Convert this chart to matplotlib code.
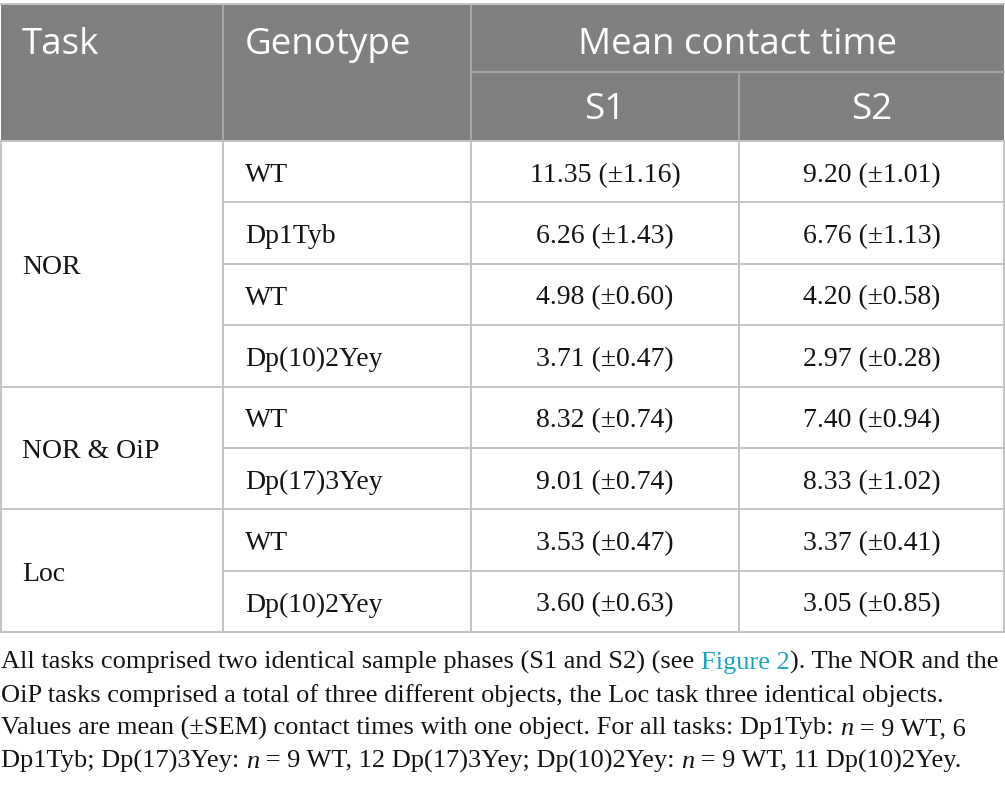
import matplotlib
matplotlib.use("Agg")
import matplotlib.pyplot as plt
from matplotlib.patches import Rectangle

# table content
header = ["Task", "Genotype", "Mean contact time"]
subheader = ["S1", "S2"]
tasks = ["NOR", "NOR & OiP", "Loc"]
task_rows = [4, 2, 2]
genotypes = ["WT", "Dp1Tyb", "WT", "Dp(10)2Yey", "WT", "Dp(17)3Yey", "WT", "Dp(10)2Yey"]
s1_mean = [11.35, 6.26, 4.98, 3.71, 8.32, 9.01, 3.53, 3.60]
s1_sem = [1.16, 1.43, 0.60, 0.47, 0.74, 0.74, 0.47, 0.63]
s2_mean = [9.20, 6.76, 4.20, 2.97, 7.40, 8.33, 3.37, 3.05]
s2_sem = [1.01, 1.13, 0.58, 0.28, 0.94, 1.02, 0.41, 0.85]

caption = [
    [("All tasks comprised two identical sample phases (S1 and S2) (see ", "plain"),
     ("Figure 2", "link"), ("). The NOR and the", "plain")],
    [("OiP tasks comprised a total of three different objects, the Loc task three identical objects.", "plain")],
    [("Values are mean (\u00b1SEM) contact times with one object. For all tasks: Dp1Tyb: ", "plain"),
     ("n", "italic"), (" = 9 WT, 6", "plain")],
    [("Dp1Tyb; Dp(17)3Yey: ", "plain"), ("n", "italic"),
     (" = 9 WT, 12 Dp(17)3Yey; Dp(10)2Yey: ", "plain"), ("n", "italic"),
     (" = 9 WT, 11 Dp(10)2Yey.", "plain")],
]

W, H = 1005, 797
HEAD_BG = "#808080"
LINE = "#c4c4c4"
HEAD_LINE = "#a9a9a9"
LINK = "#1aa7c0"
TXT = "#141414"
SANS = "Open Sans"
SERIF = "Liberation Serif"

fig = plt.figure(figsize=(W / 100, H / 100), dpi=100)
ax = fig.add_axes([0, 0, 1, 1])
ax.set_xlim(0, W)
ax.set_ylim(H, 0)
ax.axis("off")

# layout (pixels)
x_left, x_right = 1, 1004
col_x = [223, 471, 739]
y_top, y_sub, y_body = 4, 72, 141
row_h = 61.4
n_rows = len(genotypes)
y_bottom = y_body + n_rows * row_h

# header band
ax.add_patch(Rectangle((x_left, y_top), x_right - x_left, y_body - y_top,
                       facecolor=HEAD_BG, edgecolor="none"))
lw = 1.4
for x in col_x[:2]:
    ax.plot([x, x], [y_top, y_body], color=HEAD_LINE, lw=lw)
ax.plot([col_x[2], col_x[2]], [y_sub, y_body], color=HEAD_LINE, lw=lw)
ax.plot([col_x[1], x_right], [y_sub, y_sub], color=HEAD_LINE, lw=lw)
ax.plot([x_left, x_right], [y_top, y_top], color=LINE, lw=lw)

hfs = 26.5
ax.text(22, 54, header[0], family=SANS, fontsize=hfs, color="white", va="baseline")
ax.text(245, 54, header[1], family=SANS, fontsize=hfs, color="white", va="baseline")
ax.text((col_x[1] + x_right) / 2, 54, header[2], family=SANS, fontsize=hfs,
        color="white", va="baseline", ha="center")
ax.text((col_x[1] + col_x[2]) / 2, 119, subheader[0], family=SANS, fontsize=hfs,
        color="white", va="baseline", ha="center")
ax.text((col_x[2] + x_right) / 2, 119, subheader[1], family=SANS, fontsize=hfs,
        color="white", va="baseline", ha="center")

# body grid
for x in [x_left] + col_x + [x_right]:
    ax.plot([x, x], [y_body, y_bottom], color=LINE, lw=lw)
ax.plot([x_left, x_right], [y_body, y_body], color=LINE, lw=lw)
bounds = [sum(task_rows[:i + 1]) for i in range(len(task_rows))]
for r in range(1, n_rows + 1):
    y = y_body + r * row_h
    x0 = x_left if r in bounds else col_x[0]
    ax.plot([x0, x_right], [y, y], color=LINE, lw=lw)

bfs = 20
cap_off = 10
start = 0
for task, n in zip(tasks, task_rows):
    yc = y_body + (start + n / 2) * row_h
    ax.text(22, yc + cap_off, task, family=SERIF, fontsize=bfs, color=TXT, va="baseline")
    start += n

for i in range(n_rows):
    yc = y_body + (i + 0.5) * row_h + cap_off
    ax.text(245, yc, genotypes[i], family=SERIF, fontsize=bfs, color=TXT, va="baseline")
    ax.text((col_x[1] + col_x[2]) / 2, yc, f"{s1_mean[i]:.2f} (\u00b1{s1_sem[i]:.2f})",
            family=SERIF, fontsize=bfs, color=TXT, va="baseline", ha="center")
    ax.text((col_x[2] + x_right) / 2, yc, f"{s2_mean[i]:.2f} (\u00b1{s2_sem[i]:.2f})",
            family=SERIF, fontsize=bfs, color=TXT, va="baseline", ha="center")

# caption with mixed runs
cfs = 19
renderer = fig.canvas.get_renderer()


def run_props(kind):
    props = dict(family=SERIF, fontsize=cfs, color=TXT, va="baseline")
    if kind == "link":
        props["color"] = LINK
    elif kind == "italic":
        props["style"] = "italic"
    return props


def run_width(text, props):
    t1 = ax.text(0, 0, "x" + text + "x", **props)
    t2 = ax.text(0, 0, "xx", **props)
    w = t1.get_window_extent(renderer).width - t2.get_window_extent(renderer).width
    t1.remove(); t2.remove()
    return w


cap_base = [669, 702, 735, 768]
for line, yb in zip(caption, cap_base):
    x = 1
    for text, kind in line:
        props = run_props(kind)
        ax.text(x, yb, text, **props)
        x += run_width(text, props)

fig.savefig("out.png", dpi=100)
